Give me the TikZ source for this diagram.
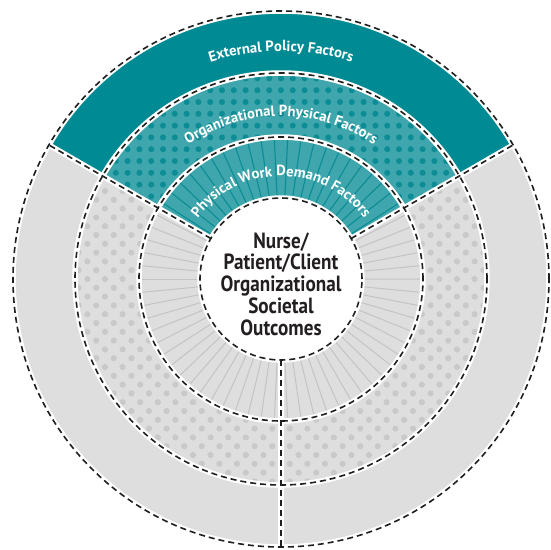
\documentclass[tikz,border=0pt]{standalone}
\usepackage{fontspec}
\usetikzlibrary{decorations.text}
\newfontfamily\lblfont{PT Sans}
\newfontfamily\ctrfont[FakeStretch=0.87]{PT Sans}
\definecolor{tealD}{HTML}{008A93}
\definecolor{tealL}{HTML}{3EA6AC}
\definecolor{tealDot}{HTML}{0C8C94}
\definecolor{greyBg}{HTML}{DEDEDE}
\definecolor{greyDot}{HTML}{C9C9C9}
\definecolor{greyLn}{HTML}{C4C4C4}
\definecolor{txtD}{HTML}{231F20}
\newcommand\annsect[4]{(#1:#4) arc[start angle=#1,end angle=#2,radius=#4] -- (#2:#3) arc[start angle=#2,end angle=#1,radius=#3] -- cycle}
\tikzset{
  wsep/.style={white, line width=5.5pt},
  dsep/.style={black!88, line width=1.6pt, dash pattern=on 6pt off 4pt},
  curvelbl/.style={decorate, decoration={text along path, text align=center, text color=white, text={|\lblfont\bfseries\fontsize{14.7pt}{14.7pt}\selectfont|#1}}}
}
\begin{document}
\begin{tikzpicture}
\useasboundingbox (-281pt,-271pt) rectangle (269pt,279pt);
\def\rA{81pt}\def\rB{142pt}\def\rC{206pt}\def\rD{268pt}
\def\stp{5.4545}
% fills
\fill[greyBg] \annsect{150}{390}{\rA}{\rD};
\fill[tealD] \annsect{30}{150}{\rC}{\rD};
\fill[tealL] \annsect{30}{150}{\rA}{\rC};
% teal dots
\begin{scope}
\clip \annsect{30}{150}{\rB}{\rC};
\foreach \i in {-17,...,17}{
  \foreach \j in {5,...,18}{
    \fill[tealDot] (\i*11.8pt,\j*11.8pt) circle[radius=3pt];
  }
}
\end{scope}
% grey dots
\begin{scope}
\clip \annsect{150}{390}{\rB}{\rC};
\foreach \i in {-12,...,12}{
  \foreach \j in {-24,...,16}{
    \pgfmathsetmacro\xx{(2*\i+mod(abs(\j),2))*8.8}
    \fill[greyDot] (\xx pt,\j*8.8pt) circle[radius=3.1pt];
  }
}
\end{scope}
% radial lines ring 1
\foreach \k in {0,...,21}{
  \draw[tealDot, line width=1.1pt] ({30+(\k+0.5)*\stp}:\rA) -- ({30+(\k+0.5)*\stp}:\rB);
}
\foreach \k in {0,...,43}{
  \draw[greyLn, line width=1pt] ({150+(\k+0.5)*\stp}:\rA) -- ({150+(\k+0.5)*\stp}:\rB);
}
% centre
\fill[white] (0,0) circle[radius=\rA];
% separators
\foreach \r in {\rA,\rB,\rC,\rD}{
  \draw[wsep] (0,0) circle[radius=\r];
}
\foreach \a in {30,150,270}{
  \draw[wsep] (\a:\rA) -- (\a:\rD);
}
\foreach \r in {\rA,\rB,\rC,\rD}{
  \draw[dsep] (0,0) circle[radius=\r];
}
\foreach \a in {30,150,270}{
  \draw[dsep] (\a:\rA) -- (\a:\rD);
}
% curved labels
\path[curvelbl={External Policy Factors}] (150:228pt) arc[start angle=150,end angle=30,radius=228pt];
\path[curvelbl={Organizational Physical Factors}] (150:163pt) arc[start angle=150,end angle=30,radius=163pt];
\path[curvelbl={Physical Work Demand Factors}] (150:103pt) arc[start angle=150,end angle=30,radius=103pt];
% centre text
\node[align=center, text=txtD, inner sep=0pt, font=\ctrfont\bfseries\fontsize{22pt}{21.8pt}\selectfont] (ctr) at (0,-5pt) {Nurse/\\Patient/Client\\Organizational\\Societal\\Outcomes};
\end{tikzpicture}
\end{document}
